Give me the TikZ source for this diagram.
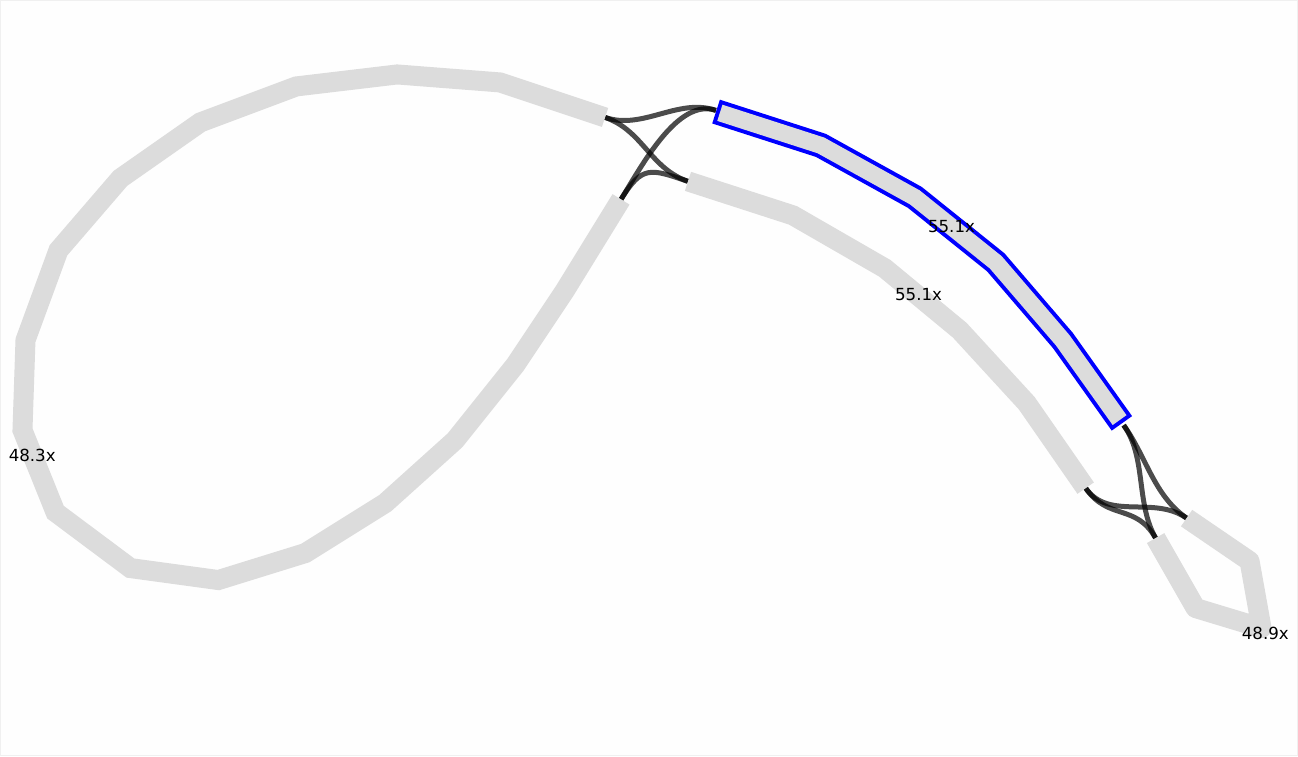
\documentclass[tikz,border=0pt]{standalone}
\usepackage{fontspec}
\setmainfont{DejaVu Sans}
\usepackage{xcolor}
\usetikzlibrary{positioning}
\definecolor{seggray}{HTML}{DCDCDC}
\definecolor{selblue}{HTML}{0000FF}
\definecolor{bgwhite}{HTML}{FEFEFE}
\definecolor{bgborder}{HTML}{F0F0F0}

\begin{document}
\begin{tikzpicture}[x=0.75pt, y=-0.75pt,
    segment/.style={draw=seggray, line width=15pt, line join=miter},
    selout/.style={draw=selblue, line width=18.75pt, line cap=rect, line join=miter},
    selin/.style={draw=seggray, line width=12.75pt, line cap=rect, line join=miter},
    link/.style={draw=black, draw opacity=0.7, line width=3.75pt},
    depth/.style={anchor=base west, inner sep=0pt, font=\fontsize{12.5}{14}\selectfont}]
  \draw[fill=bgwhite, draw=bgborder, line width=0.75pt] (0,0) rectangle (1298,756);
  \useasboundingbox (0,0) rectangle (1298,756);

  \coordinate (loopA) at (605,117);
  \coordinate (loopB) at (621,199);
  \coordinate (blueS) at (716,110);
  \coordinate (blueE) at (1124,425);
  \coordinate (lowS) at (688,181);
  \coordinate (lowE) at (1086,488);
  \coordinate (smallA) at (1187,518);
  \coordinate (smallB) at (1156,538);

  \draw[link] (loopA) .. controls +(38,13) and +(-38,-13) .. (blueS);
  \draw[link] (loopA) .. controls +(38,13) and +(-38,-13) .. (lowS);
  \draw[link] (loopB) .. controls +(21,-34) and +(-38,-13) .. (blueS);
  \draw[link] (loopB) .. controls +(21,-34) and +(-38,-13) .. (lowS);
  \draw[link] (blueE) .. controls +(23,32) and +(-33,-23) .. (smallA);
  \draw[link] (blueE) .. controls +(23,32) and +(-20,-35) .. (smallB);
  \draw[link] (lowE) .. controls +(23,33) and +(-33,-23) .. (smallA);
  \draw[link] (lowE) .. controls +(23,33) and +(-20,-35) .. (smallB);

  \draw[segment] (loopA) -- (500,82) -- (397,74) -- (296,86) -- (200,122) -- (120,178)
    -- (58,250) -- (25,340) -- (22,430) -- (55,512) -- (130,568) -- (218,580)
    -- (305,553) -- (385,503) -- (455,440) -- (515,365) -- (565,290) -- (loopB);
  \draw[segment] (lowS) -- (793,215) -- (885,268) -- (960,330) -- (1027,403) -- (lowE);
  \draw[segment, line join=round] (smallA) -- (1250,561) -- (1262,628) -- (1196,608) -- (smallB);
  \draw[selout] (728,115) -- (821,145) -- (915,197) -- (996,262) -- (1063,340) -- (1115,413);
  \draw[selin] (728,115) -- (821,145) -- (915,197) -- (996,262) -- (1063,340) -- (1115,413);

  \node[depth] (covloop) at (8,461) {48.3x};
  \node[depth] (covlow) at (895,300) {55.1x};
  \node[depth] (covblue) at (928,232) {55.1x};
  \node[depth] (covsmall) at (1242,639) {48.9x};
\end{tikzpicture}
\end{document}
